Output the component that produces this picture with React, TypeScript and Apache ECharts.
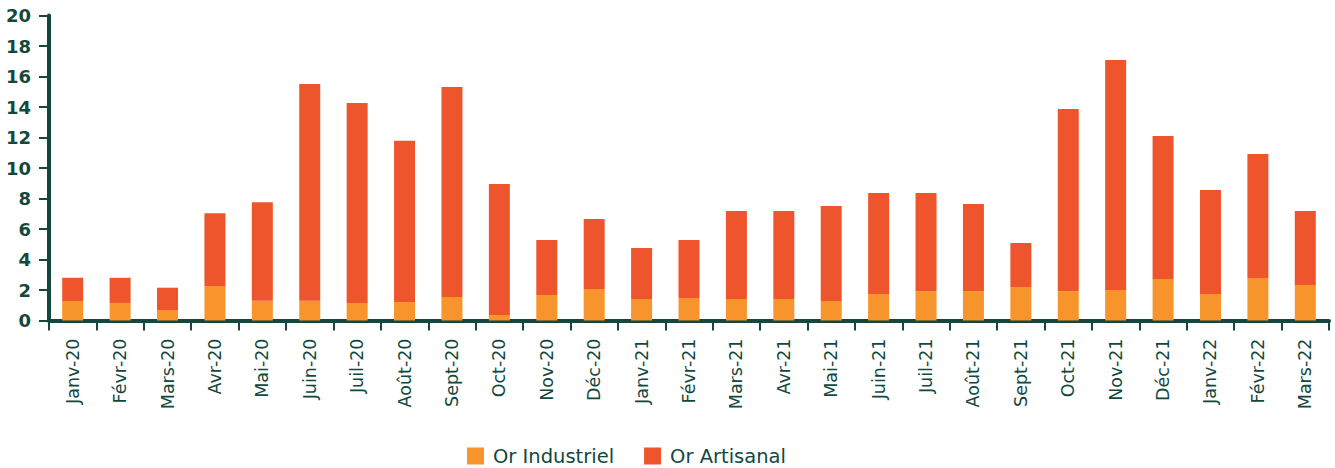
import React, { useEffect, useRef } from "react";
import * as echarts from "echarts";

const categories = [
  "Janv-20", "Févr-20", "Mars-20", "Avr-20", "Mai-20", "Juin-20", "Juil-20", "Août-20", "Sept-20",
  "Oct-20", "Nov-20", "Déc-20", "Janv-21", "Févr-21", "Mars-21", "Avr-21", "Mai-21", "Juin-21",
  "Juil-21", "Août-21", "Sept-21", "Oct-21", "Nov-21", "Déc-21", "Janv-22", "Févr-22", "Mars-22",
];

const orIndustriel = [
  1.28, 1.15, 0.69, 2.26, 1.3, 1.3, 1.15, 1.21, 1.54,
  0.36, 1.67, 2.07, 1.41, 1.48, 1.41, 1.41, 1.28, 1.74,
  1.93, 1.93, 2.2, 1.93, 2.0, 2.72, 1.74, 2.79, 2.33,
];

const orTotal = [
  2.8, 2.8, 2.15, 7.04, 7.75, 15.5, 14.26, 11.79, 15.31,
  8.95, 5.28, 6.66, 4.75, 5.28, 7.18, 7.18, 7.51, 8.36,
  8.36, 7.64, 5.08, 13.87, 17.08, 12.1, 8.56, 10.92, 7.18,
];

const orArtisanal = orTotal.map((t, i) => +(t - orIndustriel[i]).toFixed(2));

const yTicks = { min: 0, max: 20, interval: 2 };

const DARK = "#12483d";
const ORANGE = "#f7942b";
const RED = "#ef552d";
const FONT = "'DejaVu Sans', 'Noto Sans', sans-serif";

export default function App() {
  const ref = useRef<HTMLDivElement>(null);
  useEffect(() => {
    if (!ref.current) return;
    const chart = echarts.init(ref.current, null, { renderer: "svg" });
    chart.setOption({
      animation: false,
      textStyle: { fontFamily: FONT },
      grid: { left: 49, right: 6, top: 15.5, bottom: 147.5, containLabel: false },
      legend: {
        left: 467,
        top: 446,
        padding: 0,
        itemWidth: 17,
        itemHeight: 17,
        itemGap: 30,
        icon: "rect",
        textStyle: {
          fontSize: 19.5,
          lineHeight: 20,
          color: DARK,
          fontFamily: FONT,
          padding: [0, 0, 0, 4],
        },
        data: ["Or Industriel", "Or Artisanal"],
      },
      xAxis: {
        type: "category",
        data: categories,
        boundaryGap: true,
        axisLine: { lineStyle: { color: DARK, width: 4, cap: "round" } },
        axisTick: { show: true, length: 10, lineStyle: { color: DARK, width: 2 } },
        axisLabel: {
          rotate: 90,
          interval: 0,
          margin: 18,
          fontSize: 17.5,
          color: DARK,
          fontFamily: FONT,
        },
      },
      yAxis: {
        type: "value",
        min: yTicks.min,
        max: yTicks.max,
        interval: yTicks.interval,
        splitLine: { show: false },
        axisLine: { show: true, lineStyle: { color: DARK, width: 4, cap: "round" } },
        axisTick: { show: true, length: 10, lineStyle: { color: DARK, width: 2 } },
        axisLabel: {
          margin: 18,
          fontSize: 18,
          fontWeight: "bold",
          color: DARK,
          fontFamily: FONT,
        },
      },
      series: [
        {
          name: "Or Industriel",
          type: "bar",
          stack: "or",
          barWidth: 21,
          itemStyle: { color: ORANGE },
          data: orIndustriel,
        },
        {
          name: "Or Artisanal",
          type: "bar",
          stack: "or",
          barWidth: 21,
          itemStyle: { color: RED },
          data: orArtisanal,
        },
      ],
    });
    return () => chart.dispose();
  }, []);
  return (
    <div
      ref={ref}
      style={{ position: "fixed", left: 0, top: 0, width: 1335, height: 468, background: "#fff" }}
    />
  );
}
